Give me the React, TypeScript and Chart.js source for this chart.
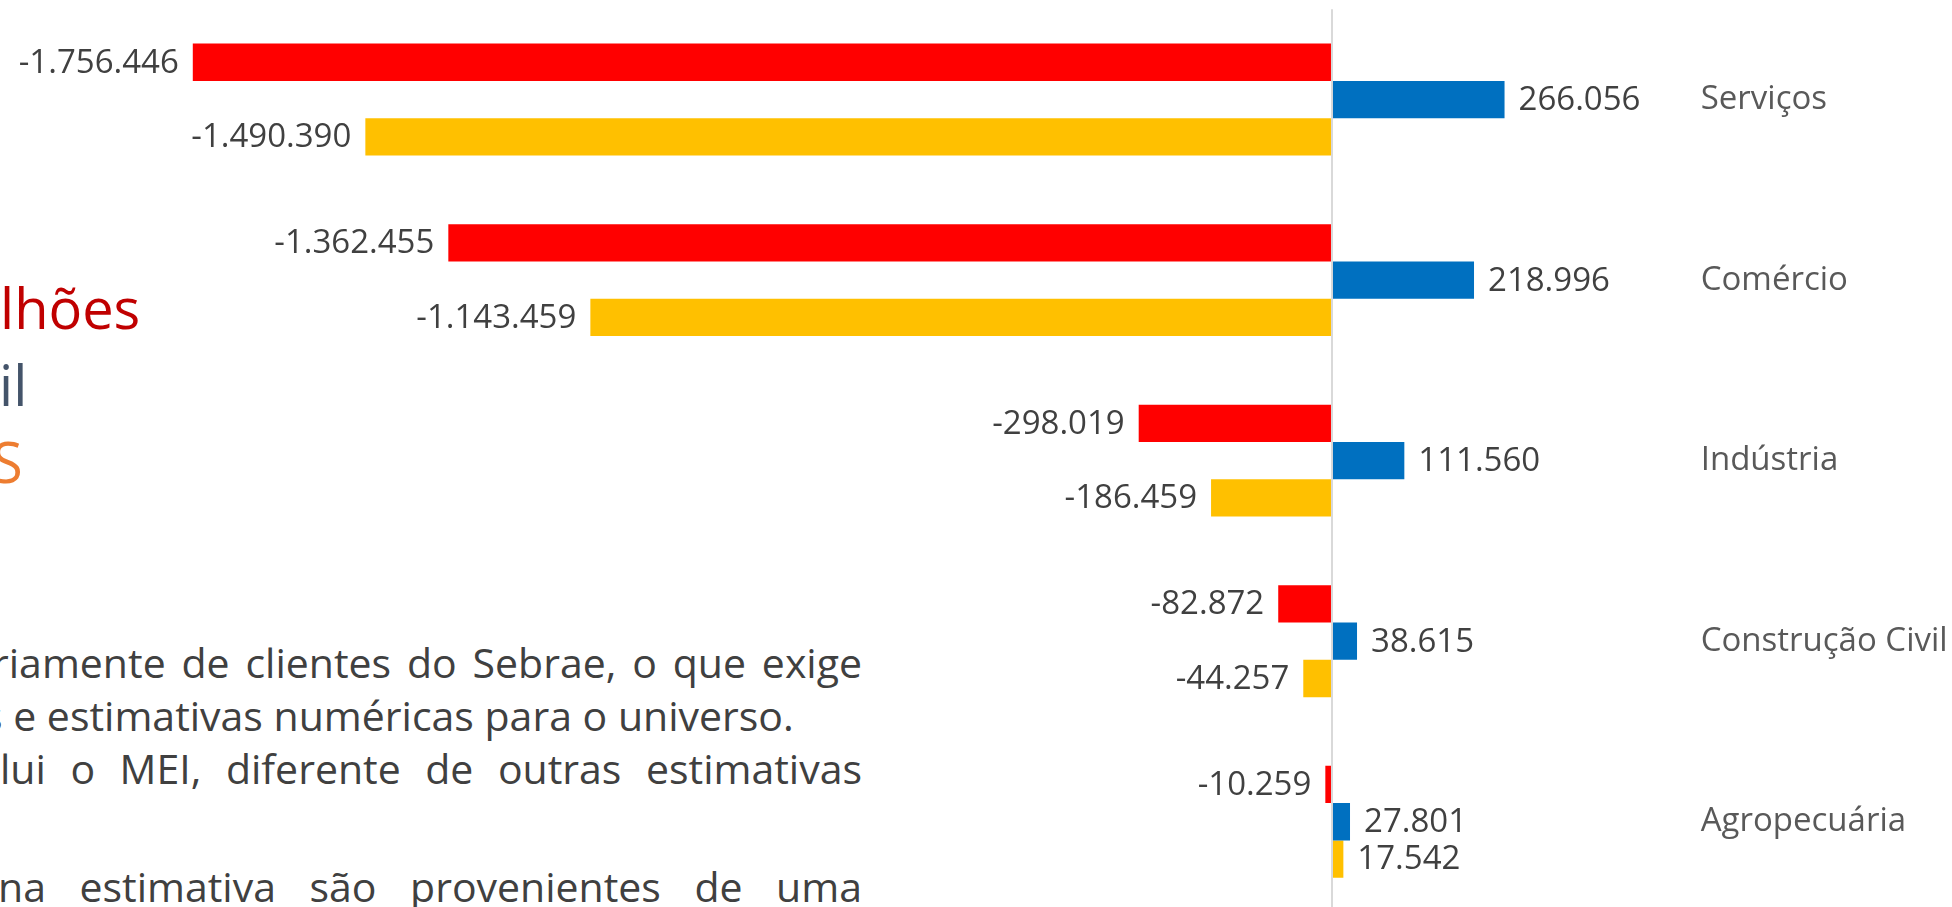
import React, { useEffect, useRef } from 'react';
import { Chart, registerables } from 'chart.js';

Chart.register(...registerables);

// ---- data ----
const categories = ['Serviços', 'Comércio', 'Indústria', 'Construção Civil', 'Agropecuária'];
const seriesNames = ['Série 1', 'Série 2', 'Série 3'];
const redValues = [-1756446, -1362455, -298019, -82872, -10259];
const blueValues = [266056, 218996, 111560, 38615, 27801];
const yellowValues = [-1490390, -1143459, -186459, -44257, 17542];
const seriesColors = ['#FF0000', '#0070C0', '#FFC000'];
const xMin = -2050000;
const xMax = 550000;

const titleLines = [
  { text: 'lhões', color: '#C00000' },
  { text: 'il', color: '#44546A' },
  { text: 'S', color: '#ED7D31' },
];
const bodyLines = [
  { text: 'riamente de clientes do Sebrae, o que exige', justify: true },
  { text: 's e estimativas numéricas para o universo.', justify: false },
  { text: 'lui o MEI, diferente de outras estimativas', justify: true },
  { text: 'na estimativa são provenientes de uma', justify: true },
];

const FONT = '"Open Sans", "Noto Sans", sans-serif';

const fmt = (v: number) => {
  const s = Math.abs(v).toString().replace(/\B(?=(\d{3})+(?!\d))/g, '.');
  return (v < 0 ? '-' : '') + s;
};

const valueLabels = {
  id: 'valueLabels',
  afterDatasetsDraw(chart: any) {
    const ctx = chart.ctx;
    ctx.save();
    ctx.font = '33px ' + FONT;
    ctx.fillStyle = '#404040';
    ctx.textBaseline = 'middle';
    chart.data.datasets.forEach((ds: any, i: number) => {
      const meta = chart.getDatasetMeta(i);
      meta.data.forEach((el: any, j: number) => {
        const v = ds.data[j] as number;
        const neg = v < 0;
        ctx.textAlign = neg ? 'right' : 'left';
        ctx.fillText(fmt(v), el.x + (neg ? -14 : 14), el.y + 1);
      });
    });
    ctx.restore();
  },
};

function BarChart() {
  const ref = useRef<HTMLCanvasElement>(null);
  useEffect(() => {
    if (!ref.current) return;
    const values = [redValues, blueValues, yellowValues];
    const chart = new Chart(ref.current, {
      type: 'bar',
      data: {
        labels: categories,
        datasets: values.map((d, i) => ({
          label: seriesNames[i],
          data: d,
          backgroundColor: seriesColors[i],
          borderWidth: 0,
          barPercentage: 1,
          categoryPercentage: 0.62,
        })),
      },
      options: {
        indexAxis: 'y',
        responsive: false,
        animation: false,
        events: [],
        layout: { padding: { left: 2.4, top: 9.3, right: 0, bottom: 0 } },
        plugins: { legend: { display: false }, tooltip: { enabled: false } },
        scales: {
          x: {
            type: 'linear',
            min: xMin,
            max: xMax,
            z: 1,
            afterBuildTicks: (scale: any) => {
              scale.ticks = [{ value: 0 }];
            },
            afterFit: (scale: any) => {
              scale.paddingLeft = 0;
              scale.paddingRight = 0;
            },
            ticks: { display: false },
            grid: {
              drawTicks: false,
              color: '#D9D9D9',
              lineWidth: 2,
            },
            border: { display: false },
          },
          y: {
            position: 'right',
            afterFit: (scale: any) => {
              scale.width = 263.3;
              scale.paddingTop = 0;
              scale.paddingBottom = 0;
            },
            grid: { display: false, drawTicks: false },
            border: { display: false },
            ticks: {
              padding: 12,
              color: '#595959',
              font: { family: FONT, size: 33 },
            },
          },
        },
      },
      plugins: [valueLabels],
    } as any);
    return () => chart.destroy();
  }, []);
  return (
    <canvas
      ref={ref}
      width={1952}
      height={912}
      style={{ position: 'absolute', left: 0, top: 0, width: 1952, height: 912 }}
    />
  );
}

export default function App() {
  const titleTops = [279, 356, 433];
  const titleLefts = [0, -1, -8];
  const bodyTops = [641.6, 694.6, 747.6, 865.6];
  const bodyLefts = [-8, -17, 0, -2];
  return (
    <div
      style={{
        position: 'fixed',
        left: 0,
        top: 0,
        width: 1952,
        height: 907,
        overflow: 'hidden',
        background: '#ffffff',
      }}
    >
      {titleLines.map((t, i) => (
        <div
          key={'t' + i}
          style={{
            position: 'absolute',
            left: titleLefts[i],
            top: titleTops[i],
            fontFamily: FONT,
            fontSize: 56,
            lineHeight: '56px',
            color: t.color,
            whiteSpace: 'nowrap',
          }}
        >
          {t.text}
        </div>
      ))}
      {bodyLines.map((b, i) => (
        <div
          key={'b' + i}
          style={{
            position: 'absolute',
            left: bodyLefts[i],
            top: bodyTops[i],
            width: 862 - bodyLefts[i],
            fontFamily: FONT,
            fontSize: 41,
            lineHeight: '41px',
            color: '#404040',
            textAlign: b.justify ? 'justify' : 'left',
            textAlignLast: b.justify ? 'justify' : 'auto',
          } as any}
        >
          {b.text}
        </div>
      ))}
      <BarChart />
    </div>
  );
}
